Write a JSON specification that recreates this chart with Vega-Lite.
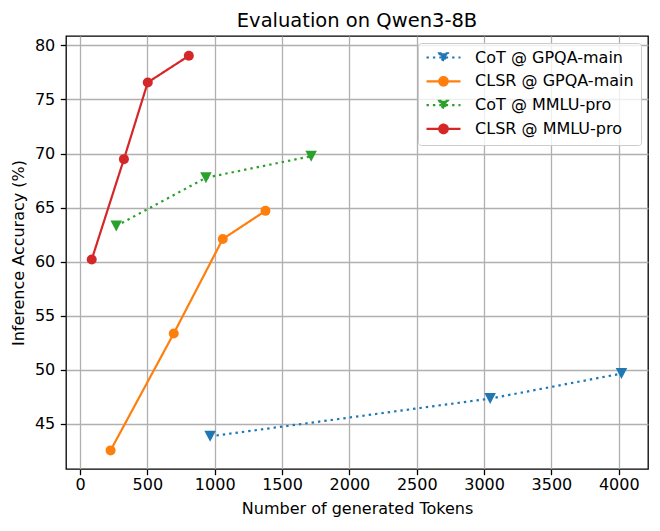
{
  "$schema": "https://vega.github.io/schema/vega-lite/v6.json",
  "autosize": "none",
  "width": 582,
  "height": 433,
  "padding": {"left": 66, "top": 36, "right": 12, "bottom": 62},
  "background": "white",
  "title": {
    "text": "Evaluation on Qwen3-8B",
    "font": "DejaVu Sans",
    "fontSize": 19.5,
    "fontWeight": "normal",
    "color": "black",
    "offset": 5
  },
  "config": {
    "font": "DejaVu Sans",
    "view": {"stroke": "black", "strokeWidth": 1.3},
    "axis": {
      "labelFont": "DejaVu Sans",
      "labelFontSize": 16,
      "labelColor": "black",
      "titleFont": "DejaVu Sans",
      "titleFontSize": 16,
      "titleFontWeight": "normal",
      "titleColor": "black",
      "domain": false,
      "tickColor": "black",
      "tickSize": 5.7,
      "tickWidth": 1.3,
      "gridColor": "#b0b0b0",
      "gridWidth": 1.3,
      "gridOpacity": 1
    },
    "legend": {
      "orient": "top-right",
      "offset": 7,
      "padding": 6.5,
      "fillColor": "rgba(255,255,255,0.8)",
      "strokeColor": "#cccccc",
      "cornerRadius": 3,
      "labelFont": "DejaVu Sans",
      "labelFontSize": 16,
      "labelColor": "black",
      "labelOffset": 34.6,
      "rowPadding": 5.8,
      "symbolSize": 100,
      "symbolStrokeWidth": 2.2,
      "symbolOpacity": 1
    }
  },
  "data": {
    "values": [
      {"series": "CoT @ GPQA-main", "tokens": 966, "acc": 43.86},
      {"series": "CoT @ GPQA-main", "tokens": 3045, "acc": 47.35},
      {"series": "CoT @ GPQA-main", "tokens": 4020, "acc": 49.66},
      {"series": "CLSR @ GPQA-main", "tokens": 227, "acc": 42.56},
      {"series": "CLSR @ GPQA-main", "tokens": 696, "acc": 53.37},
      {"series": "CLSR @ GPQA-main", "tokens": 1060, "acc": 62.1},
      {"series": "CLSR @ GPQA-main", "tokens": 1377, "acc": 64.7},
      {"series": "CoT @ MMLU-pro", "tokens": 269, "acc": 63.3},
      {"series": "CoT @ MMLU-pro", "tokens": 935, "acc": 67.76},
      {"series": "CoT @ MMLU-pro", "tokens": 1716, "acc": 69.75},
      {"series": "CLSR @ MMLU-pro", "tokens": 87, "acc": 60.2},
      {"series": "CLSR @ MMLU-pro", "tokens": 326, "acc": 69.48},
      {"series": "CLSR @ MMLU-pro", "tokens": 503, "acc": 76.57},
      {"series": "CLSR @ MMLU-pro", "tokens": 808, "acc": 79.03}
    ]
  },
  "encoding": {
    "x": {
      "field": "tokens",
      "type": "quantitative",
      "title": "Number of generated Tokens",
      "scale": {"domain": [-104, 4217], "nice": false, "zero": false},
      "axis": {"values": [0, 500, 1000, 1500, 2000, 2500, 3000, 3500, 4000], "format": "d", "labelPadding": 1.5, "titlePadding": 8}
    },
    "y": {
      "field": "acc",
      "type": "quantitative",
      "title": "Inference Accuracy (%)",
      "scale": {"domain": [40.84, 80.86], "nice": false, "zero": false},
      "axis": {"values": [45, 50, 55, 60, 65, 70, 75, 80], "labelPadding": 5.5, "titlePadding": 8}
    }
  },
  "layer": [
    {
      "mark": {"type": "line", "strokeWidth": 2.2},
      "encoding": {
        "color": {
          "field": "series",
          "type": "nominal",
          "scale": {
            "domain": ["CoT @ GPQA-main", "CLSR @ GPQA-main", "CoT @ MMLU-pro", "CLSR @ MMLU-pro"],
            "range": ["#1f77b4", "#ff7f0e", "#2ca02c", "#d62728"]
          },
          "legend": null
        },
        "strokeDash": {
          "field": "series",
          "type": "nominal",
          "scale": {
            "domain": ["CoT @ GPQA-main", "CLSR @ GPQA-main", "CoT @ MMLU-pro", "CLSR @ MMLU-pro"],
            "range": [[2.4, 4], [1, 0], [2.4, 4], [1, 0]]
          },
          "legend": null
        }
      }
    },
    {
      "mark": {"type": "point", "filled": true, "opacity": 1, "size": 100},
      "encoding": {
        "color": {"field": "series", "type": "nominal", "legend": null},
        "shape": {
          "field": "series",
          "type": "nominal",
          "scale": {
            "domain": ["CoT @ GPQA-main", "CLSR @ GPQA-main", "CoT @ MMLU-pro", "CLSR @ MMLU-pro"],
            "range": ["M-1.15,-1.1L1.15,-1.1L0,1.1Z", "circle", "M-1.15,-1.1L1.15,-1.1L0,1.1Z", "circle"]
          },
          "legend": null
        }
      }
    },
    {
      "transform": [{"filter": "false"}],
      "mark": {"type": "point", "filled": true, "opacity": 1},
      "encoding": {
        "fill": {
          "field": "series",
          "type": "nominal",
          "title": null,
          "scale": {
            "domain": ["CoT @ GPQA-main", "CLSR @ GPQA-main", "CoT @ MMLU-pro", "CLSR @ MMLU-pro"],
            "range": ["#1f77b4", "#ff7f0e", "#2ca02c", "#d62728"]
          }
        },
        "stroke": {
          "field": "series",
          "type": "nominal",
          "title": null,
          "scale": {
            "domain": ["CoT @ GPQA-main", "CLSR @ GPQA-main", "CoT @ MMLU-pro", "CLSR @ MMLU-pro"],
            "range": ["#1f77b4", "#ff7f0e", "#2ca02c", "#d62728"]
          }
        },
        "strokeDash": {
          "field": "series",
          "type": "nominal",
          "title": null,
          "scale": {
            "domain": ["CoT @ GPQA-main", "CLSR @ GPQA-main", "CoT @ MMLU-pro", "CLSR @ MMLU-pro"],
            "range": [[2.4, 4], [1, 0], [2.4, 4], [1, 0]]
          }
        },
        "shape": {
          "field": "series",
          "type": "nominal",
          "title": null,
          "scale": {
            "domain": ["CoT @ GPQA-main", "CLSR @ GPQA-main", "CoT @ MMLU-pro", "CLSR @ MMLU-pro"],
            "range": [
              "M-1.2,0L5.6,0M1.35,-0.85L3.05,-0.85L2.2,0.85Z",
              "M-1.2,0L5.6,0M3.05,0A0.85,0.85,0,1,1,1.35,0A0.85,0.85,0,1,1,3.05,0Z",
              "M-1.2,0L5.6,0M1.35,-0.85L3.05,-0.85L2.2,0.85Z",
              "M-1.2,0L5.6,0M3.05,0A0.85,0.85,0,1,1,1.35,0A0.85,0.85,0,1,1,3.05,0Z"
            ]
          }
        }
      }
    }
  ],
  "resolve": {
    "scale": {"shape": "independent", "fill": "independent", "stroke": "independent", "strokeDash": "independent"}
  }
}
